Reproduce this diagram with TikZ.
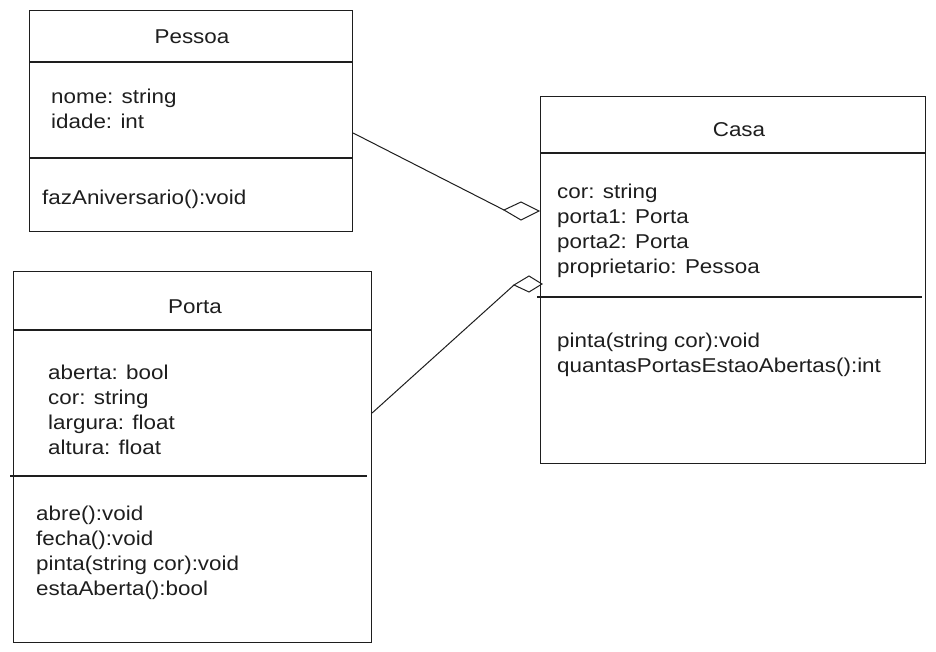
\documentclass[tikz,border=0pt]{standalone}
\usepackage{fontspec}
\setmainfont[FakeStretch=1.12]{Liberation Sans}
\definecolor{ink}{HTML}{1E1E1E}
\begin{document}
\begin{tikzpicture}[x=1pt,y=-1pt,
  classbox/.style={draw=ink,line width=1.1pt,rectangle,inner sep=0pt,anchor=north west},
  sep/.style={draw=ink,line width=1.1pt},
  conn/.style={draw=ink,line width=1pt},
  txt/.style={text=ink,font=\fontsize{20}{25}\selectfont,inner sep=0pt,align=left,anchor=base west},
  title/.style={text=ink,font=\fontsize{20}{25}\selectfont,inner sep=0pt,anchor=base}]
\useasboundingbox[fill=white] (0,0) rectangle (936,652);

% Pessoa
\node[classbox,minimum width=323pt,minimum height=221pt] (pessoa) at (29,10) {};
\draw[sep] (29,62) -- (352,62);
\draw[sep] (29,158) -- (352,158);
\node[title] (pessoaT) at (192,44) {Pessoa};
\node[txt] (pessoaA) at (51,129) {nome: string\\idade: int};
\node[txt] (pessoaM) at (42,205) {fazAniversario():void};

% Porta
\node[classbox,minimum width=358pt,minimum height=371pt] (porta) at (13,271) {};
\draw[sep] (13,330) -- (371,330);
\draw[sep] (10,476) -- (367,476);
\node[title] (portaT) at (195,313) {Porta};
\node[txt] (portaA) at (48,454) {aberta: bool\\cor: string\\largura: float\\altura: float};
\node[txt] (portaM) at (36,595) {abre():void\\fecha():void\\pinta(string cor):void\\estaAberta():bool};

% Casa
\node[classbox,minimum width=385pt,minimum height=367pt] (casa) at (540,96) {};
\draw[sep] (540,153) -- (925,153);
\draw[sep] (537,297) -- (922,297);
\node[title] (casaT) at (739,137) {Casa};
\node[txt] (casaA) at (557,273) {cor: string\\porta1: Porta\\porta2: Porta\\proprietario: Pessoa};
\node[txt] (casaM) at (557,372) {pinta(string cor):void\\quantasPortasEstaoAbertas():int};

% aggregation Pessoa -> Casa
\coordinate (p1) at (pessoa.east |- 0,133);
\coordinate (d1l) at (504,210);
\coordinate (d1t) at (521,202);
\coordinate (d1r) at (539,211);
\coordinate (d1b) at (521,220);
\draw[conn] (p1) -- (d1l);
\draw[conn,line join=miter] (d1l) -- (d1t) -- (d1r) -- (d1b) -- cycle;

% aggregation Porta -> Casa
\coordinate (p2) at (porta.east |- 0,413);
\coordinate (d2l) at (514,285);
\coordinate (d2t) at (529,276);
\coordinate (d2r) at (542,284);
\coordinate (d2b) at (529,292);
\draw[conn] (p2) -- (d2l);
\draw[conn,line join=miter] (d2l) -- (d2t) -- (d2r) -- (d2b) -- cycle;
\end{tikzpicture}
\end{document}
